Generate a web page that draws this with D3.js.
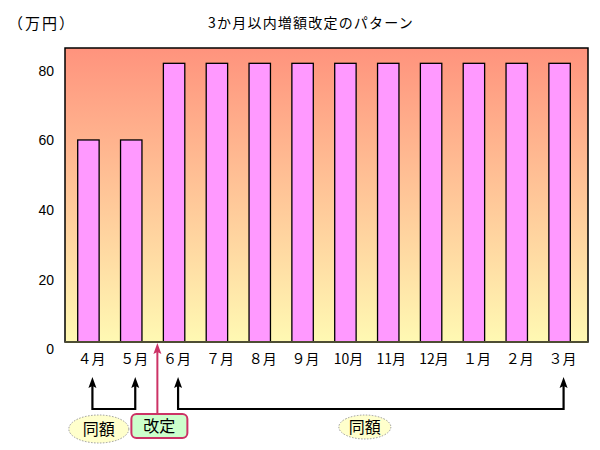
<!DOCTYPE html>
<html><head><meta charset="utf-8">
<script src="https://cdn.jsdelivr.net/npm/d3@7"></script>
<style>
body{margin:0;background:#fff;}
svg{display:block;}
text{font-family:"Liberation Sans","Noto Sans CJK JP",sans-serif;fill:#000;}
.jp{font-family:"Noto Sans CJK JP",sans-serif;}
</style></head>
<body>
<svg id="c" width="600" height="450"></svg>
<script>
const title = "3か月以内増額改定のパターン";
const unitLabel = "（万円）";
const months = ["４月","５月","６月","７月","８月","９月","10月","11月","12月","１月","２月","３月"];
const values = [58,58,80,80,80,80,80,80,80,80,80,80];
const yTicks = [0,20,40,60,80];
const sameGroups = [["４月","５月"],["６月","３月"]];
const sameLabel = "同額";
const revisionLabel = "改定";
const revisionAfter = "６月";

const svg = d3.select("#c");
const frame = {l:65, r:588, t:48, b:342};

const x = d3.scaleBand().domain(months).range([67, 581]).paddingInner(0.5).paddingOuter(0.25);
const y = d3.scaleLinear().domain([0, 84.4]).range([frame.b, frame.t]);

const defs = svg.append("defs");
const g = defs.append("linearGradient").attr("id","bg").attr("x1",0).attr("y1",0).attr("x2",0).attr("y2",1);
g.append("stop").attr("offset","0%").attr("stop-color","#FF937D");
g.append("stop").attr("offset","100%").attr("stop-color","#FFF9B3");

// plot area
svg.append("rect").attr("x",frame.l).attr("y",frame.t).attr("width",frame.r-frame.l).attr("height",frame.b-frame.t)
  .attr("fill","url(#bg)").attr("stroke","#000").attr("stroke-width",1.5);

// bars
svg.append("g").selectAll("rect").data(months).join("rect")
  .attr("x",(d)=>x(d)).attr("y",(d,i)=>y(values[i])).attr("width",x.bandwidth())
  .attr("height",(d,i)=>y(0)-y(values[i])).attr("fill","#FF99FF").attr("stroke","#000").attr("stroke-width",1.3);

// bottom axis line
svg.append("line").attr("x1",frame.l).attr("x2",frame.r).attr("y1",y(0)).attr("y2",y(0)).attr("stroke","#4d4d33").attr("stroke-width",2);

// y axis labels
const yAxis = d3.axisLeft(y).tickValues(yTicks).tickSize(0).tickPadding(11).tickFormat(d3.format("d"));
const ya = svg.append("g").attr("transform",`translate(${frame.l},0)`).call(yAxis);
ya.select(".domain").remove();
ya.selectAll("text").attr("font-size",14).attr("dy","0.85em").style("font-family","Liberation Sans, sans-serif");

// x axis labels
const xAxis = d3.axisBottom(x).tickSize(0).tickPadding(12);
const xa = svg.append("g").attr("transform",`translate(0,${frame.b})`).call(xAxis);
xa.select(".domain").remove();
xa.selectAll("text").attr("font-size",14).attr("class","jp").attr("dx",3);

// title & unit
svg.append("text").attr("class","jp").attr("x",311).attr("y",28).attr("text-anchor","middle")
  .attr("font-size",14).attr("letter-spacing",1.2).text(title);
svg.append("text").attr("class","jp").attr("x",8).attr("y",29).attr("font-size",15).attr("letter-spacing",2).text(unitLabel);

// annotation arrows
const ax = (m)=>x(m)+x.bandwidth()/2+4;
const tipY = 377, baseY = 409;
const head = (cx, ty, col) => svg.append("path")
  .attr("d",`M${cx},${ty} L${cx-4},${ty+11} L${cx},${ty+9} L${cx+4},${ty+11} Z`).attr("fill",col);
sameGroups.forEach(([a,b])=>{
  svg.append("path").attr("d",`M${ax(a)},${tipY+8} L${ax(a)},${baseY} L${ax(b)},${baseY} L${ax(b)},${tipY+8}`)
    .attr("fill","none").attr("stroke","#000").attr("stroke-width",2.2);
  head(ax(a), tipY, "#000");
  head(ax(b), tipY, "#000");
});
const rx = x(revisionAfter) - 6;
svg.append("line").attr("x1",rx).attr("x2",rx).attr("y1",415).attr("y2",y(0)+8)
  .attr("stroke","#CC3366").attr("stroke-width",2);
head(rx, y(0)+1, "#CC3366");

// labels
const c1 = (ax(sameGroups[0][0]) + ax(sameGroups[0][1]))/2 - 15;
svg.append("ellipse").attr("cx",c1).attr("cy",429).attr("rx",30).attr("ry",14)
  .attr("fill","#FFFFCC").attr("stroke","#999").attr("stroke-width",1).attr("stroke-dasharray","1.5,1.5");
svg.append("text").attr("class","jp").attr("x",c1).attr("y",435).attr("text-anchor","middle").attr("font-size",16).text(sameLabel);

const c2 = (ax(sameGroups[1][0]) + ax(sameGroups[1][1]))/2 - 6;
svg.append("ellipse").attr("cx",c2).attr("cy",427).attr("rx",26).attr("ry",12)
  .attr("fill","#FFFFCC").attr("stroke","#999").attr("stroke-width",1).attr("stroke-dasharray","1.5,1.5");
svg.append("text").attr("class","jp").attr("x",c2).attr("y",433).attr("text-anchor","middle").attr("font-size",16).text(sameLabel);

svg.append("rect").attr("x",rx-26).attr("y",414).attr("width",56).attr("height",24).attr("rx",5)
  .attr("fill","#CCFFCC").attr("stroke","#CC3366").attr("stroke-width",2);
svg.append("text").attr("class","jp").attr("x",rx+2).attr("y",432).attr("text-anchor","middle").attr("font-size",16).text(revisionLabel);
</script>
</body></html>
